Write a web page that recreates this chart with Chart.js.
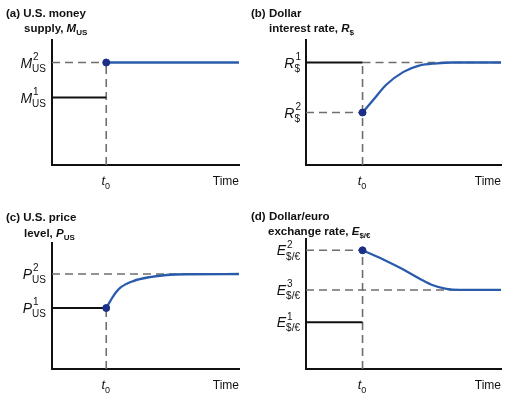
<!DOCTYPE html>
<html>
<head>
<meta charset="utf-8">
<script src="https://cdn.jsdelivr.net/npm/chart.js@4.4.1/dist/chart.umd.min.js"></script>
<style>
  body { margin: 0; background: #fff; width: 507px; height: 393px; position: relative; overflow: hidden; }
  canvas { position: absolute; }
</style>
</head>
<body>
<canvas id="panelA" width="253" height="196" style="left:0;top:0"></canvas>
<canvas id="panelB" width="259" height="196" style="left:248px;top:0"></canvas>
<canvas id="panelC" width="253" height="197" style="left:0;top:196px"></canvas>
<canvas id="panelD" width="259" height="197" style="left:248px;top:196px"></canvas>
<script>
// time axis runs 0..10, shock hits at t0
const xMax = 10;
const yMax = 10;
const t0 = 2.9;

// (a) money supply: M1, M2
const moneyLevels = [5.4, 8.2];

// (b) dollar interest rate: R1, R2 and the adjustment path after t0
const rateLevels = [8.2, 4.2];
const rateTime = [2.9, 3.5, 4.1, 5.0, 5.8, 6.7, 7.5, 10];
const rateValues = [4.2, 5.3, 6.4, 7.45, 7.95, 8.13, 8.2, 8.2];

// (c) price level: P1, P2 and path
const priceLevels = [4.84, 7.54];
const priceTime = [2.9, 3.28, 3.64, 4.35, 5.24, 6.13, 7.2, 10];
const priceValues = [4.84, 5.79, 6.43, 6.98, 7.3, 7.46, 7.52, 7.54];

// (d) exchange rate: E1, E2, E3 and path
const fxLevels = [3.6, 9.13, 6.08];
const fxTime = [2.9, 4.12, 4.97, 5.83, 6.51, 7.2, 7.88, 10];
const fxValues = [9.13, 8.31, 7.67, 6.95, 6.44, 6.16, 6.09, 6.08];

const FONT = "'Liberation Sans', Arial, sans-serif";
const BLUE = "#2a5bab";

// --- dataset helpers ---
function dashed(x0, y0, x1, y1) {
  return { data: [{ x: x0, y: y0 }, { x: x1, y: y1 }], showLine: true, pointRadius: 0,
    borderColor: "#6e6e6e", borderWidth: 1.6, borderDash: [8, 5], order: 3, clip: false };
}
function solid(x0, y0, x1, y1) {
  return { data: [{ x: x0, y: y0 }, { x: x1, y: y1 }], showLine: true, pointRadius: 0,
    borderColor: "#111", borderWidth: 2, order: 2, clip: false };
}
function path(xs, ys) {
  return { data: xs.map((x, i) => ({ x: x, y: ys[i] })), showLine: true, pointRadius: 0,
    borderColor: BLUE, borderWidth: 2.3, cubicInterpolationMode: "monotone", order: 1, clip: false };
}
function dot(x, y) {
  return { data: [{ x: x, y: y }], showLine: false, pointRadius: 3.5,
    pointBackgroundColor: "#1b2f86", pointBorderColor: "#1b2f86", order: 0, clip: false };
}

// draws text pieces; a piece may carry a stacked superscript / subscript
function drawRich(ctx, x, y, parts, size, bold, align) {
  const w = bold ? "bold " : "";
  const small = Math.round(size * 0.7);
  const widths = parts.map(p => {
    ctx.font = (p.it ? "italic " : "") + w + size + "px " + FONT;
    let pw = ctx.measureText(p.t).width;
    ctx.font = w + small + "px " + FONT;
    const sw = Math.max(p.sup ? ctx.measureText(p.sup).width : 0, p.sub ? ctx.measureText(p.sub).width : 0);
    return pw + sw + (sw ? 1 : 0);
  });
  const total = widths.reduce((a, b) => a + b, 0);
  let cx = x;
  if (align === "right") cx = x - total;
  if (align === "center") cx = x - total / 2;
  ctx.fillStyle = "#111";
  ctx.textBaseline = "alphabetic";
  ctx.textAlign = "left";
  parts.forEach((p, i) => {
    ctx.font = (p.it ? "italic " : "") + w + size + "px " + FONT;
    ctx.fillText(p.t, cx, y);
    const bw = ctx.measureText(p.t).width + 1;
    ctx.font = w + small + "px " + FONT;
    if (p.sup) ctx.fillText(p.sup, cx + bw, y - size * 0.55);
    if (p.sub) ctx.fillText(p.sub, cx + bw - (p.it ? 1 : 0), y + size * 0.3);
    cx += widths[i];
  });
}

const labelsPlugin = {
  id: "panelLabels",
  afterDraw(chart) {
    const cfg = chart.config.options.panel;
    const ctx = chart.ctx;
    const xs = chart.scales.x, ys = chart.scales.y;
    const area = chart.chartArea;
    ctx.save();
    cfg.title.forEach(line => drawRich(ctx, line.x, line.y, line.parts, 11.5, true, "left"));
    cfg.yLabels.forEach(l => {
      drawRich(ctx, area.left - 5, ys.getPixelForValue(l.v) + 5, [{ t: l.sym, it: true, sup: l.sup, sub: l.sub }], 14, false, "right");
    });
    drawRich(ctx, xs.getPixelForValue(t0), area.bottom + 20, [{ t: "t", it: true, sub: "0" }], 13, false, "center");
    drawRich(ctx, area.right, area.bottom + 20, [{ t: "Time" }], 12, false, "right");
    ctx.restore();
  }
};

function makeChart(id, pad, panel, datasets) {
  const axis = (max) => ({
    type: "linear", min: 0, max: max,
    grid: { display: false, drawTicks: false },
    ticks: { display: false },
    border: { color: "#111", width: 2 }
  });
  return new Chart(document.getElementById(id), {
    type: "scatter",
    data: { datasets: datasets },
    options: {
      responsive: false,
      animation: false,
      events: [],
      layout: { padding: pad },
      plugins: { legend: { display: false }, tooltip: { enabled: false } },
      scales: { x: axis(xMax), y: axis(yMax) },
      panel: panel
    },
    plugins: [labelsPlugin]
  });
}

// (a)
makeChart("panelA", { left: 52, right: 14, top: 40, bottom: 31 }, {
  title: [
    { x: 6, y: 17, parts: [{ t: "(a) U.S. money" }] },
    { x: 24, y: 32, parts: [{ t: "supply, " }, { t: "M", it: true, sub: "US" }] }
  ],
  yLabels: [
    { v: moneyLevels[1], sym: "M", sup: "2", sub: "US" },
    { v: moneyLevels[0], sym: "M", sup: "1", sub: "US" }
  ]
}, [
  dashed(0, moneyLevels[1], t0, moneyLevels[1]),
  dashed(t0, 0, t0, moneyLevels[1]),
  solid(0, moneyLevels[0], t0, moneyLevels[0]),
  path([t0, xMax], [moneyLevels[1], moneyLevels[1]]),
  dot(t0, moneyLevels[1])
]);

// (b)
makeChart("panelB", { left: 58, right: 6, top: 40, bottom: 31 }, {
  title: [
    { x: 3, y: 17, parts: [{ t: "(b) Dollar" }] },
    { x: 21, y: 32, parts: [{ t: "interest rate, " }, { t: "R", it: true, sub: "$" }] }
  ],
  yLabels: [
    { v: rateLevels[0], sym: "R", sup: "1", sub: "$" },
    { v: rateLevels[1], sym: "R", sup: "2", sub: "$" }
  ]
}, [
  dashed(t0, rateLevels[0], xMax, rateLevels[0]),
  dashed(0, rateLevels[1], t0, rateLevels[1]),
  dashed(t0, 0, t0, rateLevels[0]),
  solid(0, rateLevels[0], t0, rateLevels[0]),
  path(rateTime, rateValues),
  dot(t0, rateLevels[1])
]);

// (c)
makeChart("panelC", { left: 52, right: 14, top: 47, bottom: 24 }, {
  title: [
    { x: 6, y: 25, parts: [{ t: "(c) U.S. price" }] },
    { x: 24, y: 41, parts: [{ t: "level, " }, { t: "P", it: true, sub: "US" }] }
  ],
  yLabels: [
    { v: priceLevels[1], sym: "P", sup: "2", sub: "US" },
    { v: priceLevels[0], sym: "P", sup: "1", sub: "US" }
  ]
}, [
  dashed(0, priceLevels[1], xMax, priceLevels[1]),
  dashed(t0, 0, t0, priceLevels[0]),
  solid(0, priceLevels[0], t0, priceLevels[0]),
  path(priceTime, priceValues),
  dot(t0, priceLevels[0])
]);

// (d)
makeChart("panelD", { left: 58, right: 6, top: 43, bottom: 24 }, {
  title: [
    { x: 3, y: 24, parts: [{ t: "(d) Dollar/euro" }] },
    { x: 20, y: 39, parts: [{ t: "exchange rate, " }, { t: "E", it: true, sub: "$/€" }] }
  ],
  yLabels: [
    { v: fxLevels[1], sym: "E", sup: "2", sub: "$/€" },
    { v: fxLevels[2], sym: "E", sup: "3", sub: "$/€" },
    { v: fxLevels[0], sym: "E", sup: "1", sub: "$/€" }
  ]
}, [
  dashed(0, fxLevels[1], t0, fxLevels[1]),
  dashed(0, fxLevels[2], xMax, fxLevels[2]),
  dashed(t0, 0, t0, fxLevels[1]),
  solid(0, fxLevels[0], t0, fxLevels[0]),
  path(fxTime, fxValues),
  dot(t0, fxLevels[1])
]);
</script>
</body>
</html>
